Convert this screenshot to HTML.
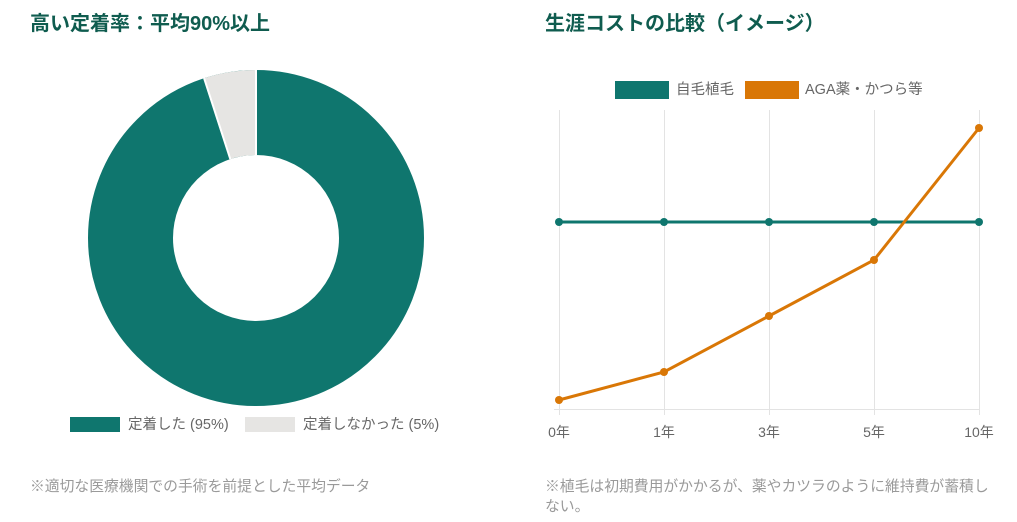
<!DOCTYPE html>
<html><head><meta charset="utf-8"><style>
body{margin:0;background:#fff;width:1017px;height:522px;overflow:hidden}
svg{display:block;font-family:"Liberation Sans","Noto Sans CJK JP",sans-serif}
</style></head><body>
<svg width="1017" height="522" viewBox="0 0 1017 522">
<text x="30" y="30" font-size="20" font-weight="bold" fill="#0f5c4f">高い定着率：平均90%以上</text>
<text x="545" y="30" font-size="20" font-weight="bold" fill="#0f5c4f">生涯コストの比較（イメージ）</text>
<circle cx="256" cy="238" r="125.5" fill="none" stroke="#0f766e" stroke-width="85"/>
<path d="M256 70 A168 168 0 0 0 204.1 78.2 L230.3 159.1 A83 83 0 0 1 256 155 Z" fill="#e6e5e3"/>
<line x1="256" y1="70" x2="256" y2="155" stroke="#fff" stroke-width="2"/>
<line x1="204.1" y1="78.2" x2="230.3" y2="159.1" stroke="#fff" stroke-width="2"/>
<rect x="70" y="417" width="50" height="15" fill="#0f766e"/>
<text x="128" y="429" font-size="14.5" fill="#666">定着した (95%)</text>
<rect x="245" y="417" width="50" height="15" fill="#e6e5e3"/>
<text x="303" y="429" font-size="14.5" fill="#666">定着しなかった (5%)</text>
<text x="30" y="491" font-size="14.8" fill="#9a9a9a">※適切な医療機関での手術を前提とした平均データ</text>
<rect x="615" y="81" width="54" height="18" fill="#0f766e"/>
<text x="676" y="94" font-size="14.5" fill="#666">自毛植毛</text>
<rect x="745" y="81" width="54" height="18" fill="#d97706"/>
<text x="805" y="94" font-size="14.5" fill="#666">AGA薬・かつら等</text>
<g stroke="#e3e3e3" stroke-width="1">
<line x1="559.5" y1="110" x2="559.5" y2="415"/>
<line x1="664.5" y1="110" x2="664.5" y2="415"/>
<line x1="769.5" y1="110" x2="769.5" y2="415"/>
<line x1="874.5" y1="110" x2="874.5" y2="415"/>
<line x1="979.5" y1="110" x2="979.5" y2="415"/>
<line x1="554" y1="409.5" x2="979" y2="409.5"/>
</g>
<g font-size="14" fill="#666" text-anchor="middle">
<text x="559" y="437">0年</text><text x="664" y="437">1年</text><text x="769" y="437">3年</text><text x="874" y="437">5年</text><text x="979" y="437">10年</text>
</g>
<polyline points="559,222 664,222 769,222 874,222 979,222" fill="none" stroke="#0f766e" stroke-width="3"/>
<g fill="#0f766e"><circle cx="559" cy="222" r="4"/><circle cx="664" cy="222" r="4"/><circle cx="769" cy="222" r="4"/><circle cx="874" cy="222" r="4"/><circle cx="979" cy="222" r="4"/></g>
<polyline points="559,400 664,372 769,316 874,260 979,128" fill="none" stroke="#d97706" stroke-width="3"/>
<g fill="#d97706"><circle cx="559" cy="400" r="4"/><circle cx="664" cy="372" r="4"/><circle cx="769" cy="316" r="4"/><circle cx="874" cy="260" r="4"/><circle cx="979" cy="128" r="4"/></g>
<text x="545" y="491" font-size="14.8" fill="#9a9a9a">※植毛は初期費用がかかるが、薬やカツラのように維持費が蓄積し</text>
<text x="545" y="511" font-size="14.8" fill="#9a9a9a">ない。</text>
</svg>
</body></html>
